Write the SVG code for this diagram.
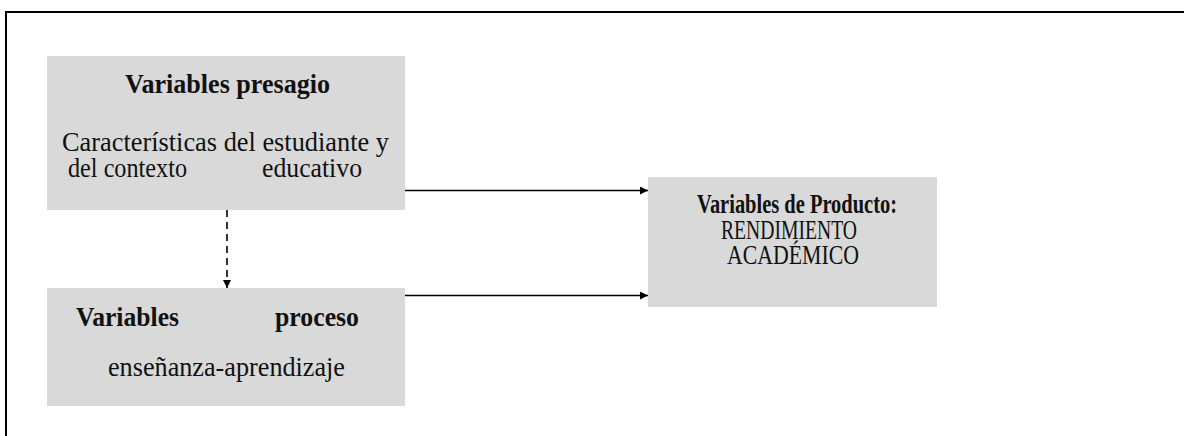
<svg xmlns="http://www.w3.org/2000/svg" width="1184" height="436" viewBox="0 0 1184 436">
<defs>
<style>
.box{fill:#d9d9d9;stroke:none}
.t{font-family:"Liberation Serif","Times New Roman","DejaVu Serif",serif;font-size:27px;fill:#111}
.b{font-weight:bold}
.ln{stroke:#000;stroke-width:1.6;fill:none}
</style>
<marker id="ah" viewBox="0 0 10 10" refX="10" refY="5" markerWidth="5" markerHeight="5" markerUnits="strokeWidth" orient="auto">
<path d="M0,0 L10,5 L0,10 Z" fill="#000"/>
</marker>
</defs>
<rect width="1184" height="436" fill="#fff"/>
<path d="M6,436 V12 H1184" stroke="#000" stroke-width="2" fill="none"/>
<g id="presagio">
<rect class="box" x="47" y="56" width="358" height="154"/>
<text class="t b" x="227.5" y="93" text-anchor="middle" textLength="205" lengthAdjust="spacingAndGlyphs">Variables presagio</text>
<text class="t"><tspan x="62" y="151" textLength="327" lengthAdjust="spacingAndGlyphs">Características del estudiante y</tspan><tspan x="68" y="177" textLength="119" lengthAdjust="spacingAndGlyphs">del contexto</tspan><tspan x="262" y="177" textLength="100" lengthAdjust="spacingAndGlyphs">educativo</tspan></text>
</g>
<g id="proceso">
<rect class="box" x="47" y="288" width="358" height="118"/>
<text class="t b" x="76" y="326" textLength="103" lengthAdjust="spacingAndGlyphs">Variables</text>
<text class="t b" x="275" y="326" textLength="84" lengthAdjust="spacingAndGlyphs">proceso</text>
<text class="t" x="108" y="376" textLength="237" lengthAdjust="spacingAndGlyphs">enseñanza-aprendizaje</text>
</g>
<g id="producto">
<rect class="box" x="648" y="177" width="289" height="130"/>
<text class="t"><tspan class="b" x="697" y="213" textLength="200" lengthAdjust="spacingAndGlyphs">Variables de Producto:</tspan><tspan x="721" y="239" textLength="136" lengthAdjust="spacingAndGlyphs">RENDIMIENTO</tspan><tspan x="727" y="264" textLength="132" lengthAdjust="spacingAndGlyphs">ACADÉMICO</tspan></text>
</g>
<g id="connectors">
<line class="ln" x1="405" y1="190.5" x2="648" y2="190.5" marker-end="url(#ah)"/>
<line class="ln" x1="405" y1="295.5" x2="648" y2="295.5" marker-end="url(#ah)"/>
<line class="ln" x1="227" y1="210" x2="227" y2="288" stroke-dasharray="7,5" marker-end="url(#ah)"/>
</g>
</svg>
